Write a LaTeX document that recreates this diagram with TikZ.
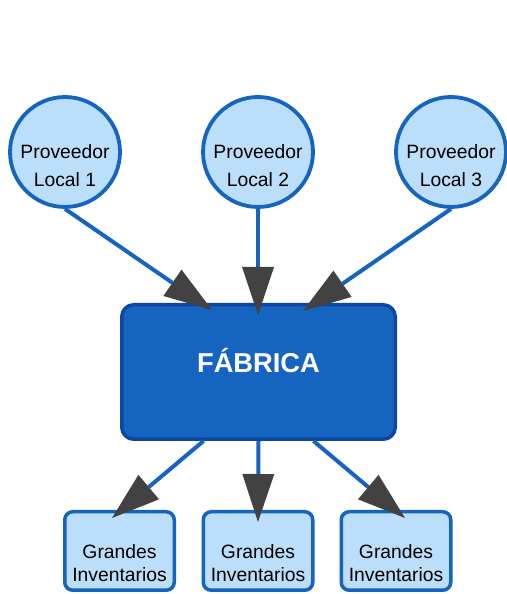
\documentclass[tikz,border=0pt]{standalone}
\usepackage{fontspec}
\setmainfont{Liberation Sans}
\usetikzlibrary{arrows.meta}

\begin{document}
\begin{tikzpicture}[x=1pt,y=1pt,
  supplier/.style={circle,draw=lineBlue,fill=paleBlue,line width=3.8pt,minimum size=110pt,inner sep=0pt},
  stock/.style={rectangle,rounded corners=8pt,draw=lineBlue,fill=paleBlue,line width=3.5pt,minimum width=109.5pt,minimum height=78.5pt,inner sep=0pt},
  factory/.style={rectangle,rounded corners=12pt,draw=darkBlue,fill=lineBlue,line width=3.5pt,minimum width=273.5pt,minimum height=134.5pt,inner sep=0pt},
  smalltext/.style={align=center,inner sep=0pt,text=black,font=\fontsize{19.3}{28}\selectfont},
  flow/.style={draw=lineBlue,line width=4pt,-{Triangle[length=48pt,width=32pt,color=tipGray,line width=0pt]}},
]
\definecolor{lineBlue}{RGB}{21,101,192}
\definecolor{darkBlue}{RGB}{13,71,161}
\definecolor{paleBlue}{RGB}{187,222,251}
\definecolor{tipGray}{RGB}{66,66,66}
\path[use as bounding box,fill=white] (0,0) rectangle (506,594);

% suppliers
\node[supplier] (prov1) at ( 65,442) {};
\node[supplier] (prov2) at (258,442) {};
\node[supplier] (prov3) at (451,442) {};
\node[smalltext] (provtext1) at ([yshift=-14]prov1.center) {Proveedor\\Local 1};
\node[smalltext] (provtext2) at ([yshift=-14]prov2.center) {Proveedor\\Local 2};
\node[smalltext] (provtext3) at ([yshift=-14]prov3.center) {Proveedor\\Local 3};

% factory
\node[factory] (fab) at (258.5,222) {};
\node[text=white,anchor=base,inner sep=0pt,font=\fontsize{27.3}{30}\selectfont\bfseries] (fabtext) at ([yshift=-1]fab.center) {FÁBRICA};

% stock boxes
\node[stock] (inv1) at (119.5,43) {};
\node[stock] (inv2) at (258,43) {};
\node[stock] (inv3) at (396,43) {};
\node[smalltext,font=\fontsize{19.3}{23}\selectfont] (invtext1) at ([yshift=-12.5]inv1.center) {Grandes\\Inventarios};
\node[smalltext,font=\fontsize{19.3}{23}\selectfont] (invtext2) at ([yshift=-12.5]inv2.center) {Grandes\\Inventarios};
\node[smalltext,font=\fontsize{19.3}{23}\selectfont] (invtext3) at ([yshift=-12.5]inv3.center) {Grandes\\Inventarios};

% arrow ends
\coordinate (in1) at ([xshift=-46.5,yshift=62]fab.center);
\coordinate (in2) at ([xshift=-0.5,yshift=57]fab.center);
\coordinate (in3) at ([xshift=44.5,yshift=61]fab.center);
\coordinate (out1) at ([xshift=-55]fab.south);
\coordinate (out2) at ([xshift=0]fab.south);
\coordinate (out3) at ([xshift=55]fab.south);
\coordinate (to1) at ([xshift=-7.5,yshift=33]inv1.center);
\coordinate (to2) at ([xshift=0,yshift=29]inv2.center);
\coordinate (to3) at ([xshift=9,yshift=33]inv3.center);

\draw[flow] (prov1.south) -- (in1);
\draw[flow] (prov2.south) -- (in2);
\draw[flow] (prov3.south) -- (in3);
\draw[flow] (out1) -- (to1);
\draw[flow] (out2) -- (to2);
\draw[flow] (out3) -- (to3);
\end{tikzpicture}
\end{document}
